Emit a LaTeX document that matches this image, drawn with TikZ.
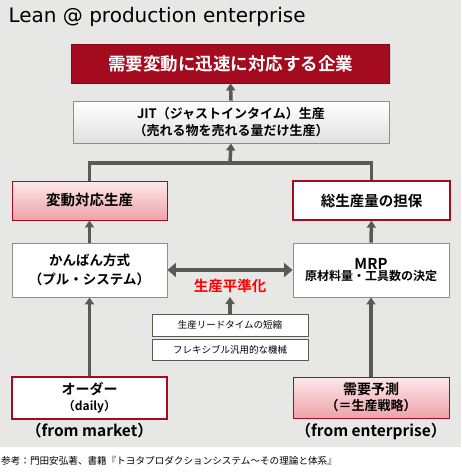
\documentclass[tikz,border=0pt]{standalone}
\usepackage{fontspec}
\setmainfont{Noto Sans CJK JP}[BoldFont={Noto Sans CJK JP Bold}]
\newfontfamily\titlefont{DejaVu Sans}
\usetikzlibrary{arrows.meta,shadows}
\definecolor{bgc}{HTML}{E7E7E5}
\definecolor{dred}{HTML}{A50B1E}
\definecolor{arr}{HTML}{5A5A52}
\definecolor{bord}{HTML}{8E8E8E}
\definecolor{pinkt}{HTML}{FDE9EB}
\definecolor{pinkb}{HTML}{EEA2A8}
\tikzset{
  box/.style={draw, align=center, inner sep=0pt, font=\bfseries,
    drop shadow={opacity=0.25, shadow xshift=1.2pt, shadow yshift=-1.2pt}},
  graybox/.style={box, draw=bord, line width=0.9pt, fill=white},
  redbox/.style={box, draw=dred, line width=1.3pt, fill=white},
  pinkbox/.style={box, draw=dred, line width=0.9pt, top color=pinkt, bottom color=pinkb},
  smallbox/.style={draw=arr, line width=1pt, fill=white, inner sep=0pt, font=\fontsize{9.5}{11}\selectfont,
    minimum width=156pt},
  conn/.style={draw=arr, line width=3.5pt},
  arrow/.style={conn, -{Triangle[length=7pt,width=9pt]}},
  darrow/.style={conn, {Triangle[length=8.5pt,width=14pt]}-{Triangle[length=8.5pt,width=14pt]}},
}
\begin{document}
\begin{tikzpicture}[x=1pt,y=-1pt]
\useasboundingbox (0,0) rectangle (461,474);
\fill[bgc] (0,0) rectangle (461,447);
\node[anchor=west, font=\titlefont\fontsize{20}{23}\selectfont] (title) at (5,17) {Lean @ production enterprise};

\node[box, draw=dred!80!black, fill=dred, text=white, line width=0.8pt, minimum width=318pt, minimum height=39pt,
  font=\bfseries\fontsize{17.5}{20}\selectfont] (top) at (230.5,63.5) {需要変動に迅速に対応する企業};
\node[graybox, top color=white, bottom color=black!12, minimum width=316pt, minimum height=42pt,
  font=\bfseries\fontsize{13}{17}\selectfont] (jit) at (231,122) {JIT（ジャストインタイム）生産\\（売れる物を売れる量だけ生産）};

\node[pinkbox, minimum width=155pt, minimum height=39pt, font=\bfseries\fontsize{14.5}{17}\selectfont] (lt) at (89.5,200.5) {変動対応生産};
\node[redbox, minimum width=157pt, minimum height=39pt, font=\bfseries\fontsize{14.5}{17}\selectfont] (rt) at (371.5,200.5) {総生産量の担保};

\node[graybox, minimum width=155pt, minimum height=54pt, font=\bfseries\fontsize{13.5}{19}\selectfont] (kan) at (89.5,270) {かんばん方式\\（プル・システム）};
\node[graybox, minimum width=156pt, minimum height=54pt] (mrp) at (371,270) {{\fontsize{15}{18}\selectfont MRP}\\[-1pt]{\fontsize{12}{15}\selectfont 原材料量・工具数の決定}};

\node[font=\bfseries\fontsize{14.5}{17}\selectfont, text=red, inner sep=1pt] (lev) at (230,286) {生産平準化};
\node[smallbox, minimum height=22pt] (s1) at (230,325) {生産リードタイムの短縮};
\node[smallbox, minimum height=21pt] (s2) at (230,349.5) {フレキシブル汎用的な機械};

\node[redbox, minimum width=155pt, minimum height=42pt, font=\bfseries\fontsize{14}{17}\selectfont] (ord) at (89.5,398) {オーダー\\[-1pt]{\fontsize{12}{15}\selectfont（daily）}};
\node[pinkbox, minimum width=156pt, minimum height=41pt, font=\bfseries\fontsize{14}{17}\selectfont] (dem) at (371,397.5) {需要予測\\[-1pt]{\fontsize{13}{16}\selectfont（＝生産戦略）}};

\node[font=\bfseries\fontsize{15.5}{18}\selectfont] (fm) at (89.5,431) {（from market）};
\node[font=\bfseries\fontsize{15.5}{18}\selectfont] (fe) at (371,431) {（from enterprise）};

\node[anchor=west, font=\fontsize{9.6}{11}\selectfont, inner sep=0pt] (ref) at (1,461) {参考：門田安弘著、書籍『トヨタプロダクションシステム～その理論と体系』};

% connectors
\coordinate (junc) at (230,163);
\coordinate (levtip) at (230,297);
\draw[conn] (lt.north) |- (junc) -| (rt.north);
\draw[arrow] (junc) -- (jit.south);
\draw[arrow] (jit.north) -- (top.south);
\draw[arrow] (kan.north) -- (lt.south);
\draw[arrow] (mrp.north) -- (rt.south);
\draw[arrow] (ord.north) -- (kan.south);
\draw[arrow] (dem.north) -- (mrp.south);
\draw[darrow] (kan.east) -- (mrp.west);
\draw[arrow] (s1.north) -- (levtip);
\end{tikzpicture}
\end{document}
